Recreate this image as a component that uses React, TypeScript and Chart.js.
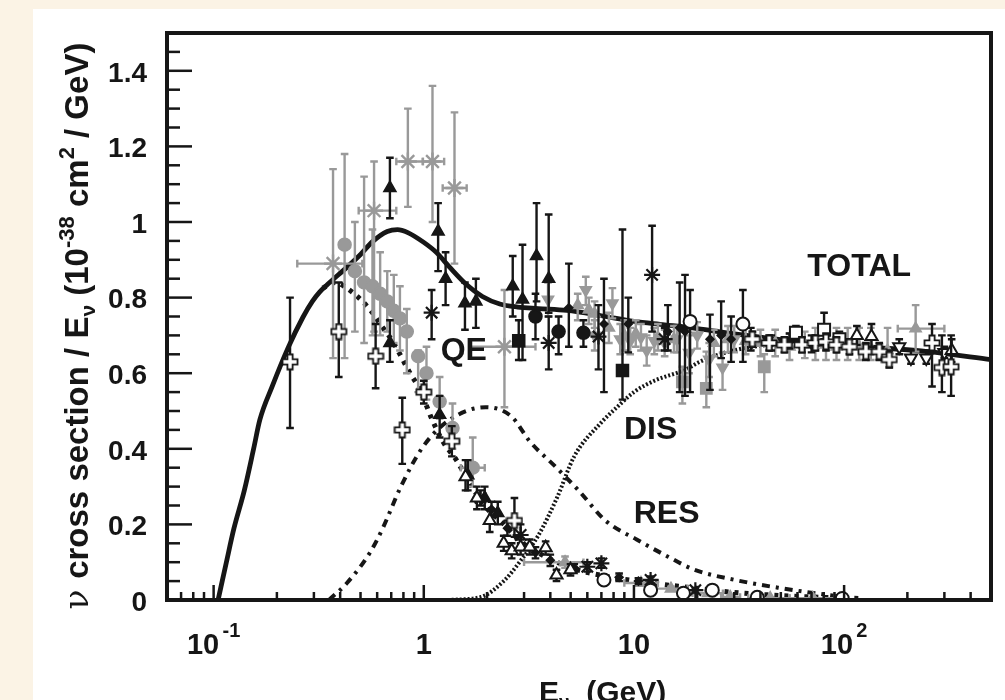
import React, { useEffect, useRef } from "react";
import { Chart, registerables } from "chart.js";
Chart.register(...registerables);

// ---------------- theory curves (E in GeV, sigma/E in 1e-38 cm^2/GeV) ----------------
const totalE = [0.105, 0.115, 0.125, 0.14, 0.155, 0.166, 0.19, 0.226, 0.266, 0.295, 0.32, 0.345, 0.37, 0.43, 0.5, 0.57, 0.67, 0.75, 0.84, 1.0, 1.15, 1.33, 1.6, 1.9, 2.3, 2.8, 3.5, 4.8, 7, 10, 14, 20, 30, 50, 80, 150, 250, 500];
const totalY = [0, 0.1, 0.19, 0.29, 0.40, 0.477, 0.565, 0.667, 0.748, 0.79, 0.815, 0.833, 0.848, 0.88, 0.914, 0.948, 0.975, 0.98, 0.972, 0.946, 0.919, 0.88, 0.834, 0.803, 0.783, 0.775, 0.771, 0.766, 0.752, 0.737, 0.728, 0.718, 0.704, 0.689, 0.678, 0.667, 0.657, 0.636];

const qeE = [0.33, 0.38, 0.43, 0.5, 0.57, 0.62, 0.7, 0.77, 0.85, 0.96, 1.09, 1.23, 1.43, 1.69, 1.97, 2.37, 2.89, 3.5, 4.9, 7, 11.3, 18.5, 30, 49, 80, 120];
const qeY = [0.825, 0.84, 0.825, 0.795, 0.76, 0.73, 0.69, 0.65, 0.605, 0.556, 0.48, 0.42, 0.37, 0.30, 0.246, 0.204, 0.155, 0.125, 0.087, 0.065, 0.047, 0.033, 0.02, 0.012, 0.007, 0.004];

const resE = [0.354, 0.431, 0.554, 0.638, 0.778, 0.99, 1.33, 1.97, 2.62, 3.19, 4.28, 5.45, 7.32, 10.3, 14.6, 19.4, 30.3, 49.1, 72.8, 100];
const resY = [0, 0.045, 0.125, 0.19, 0.30, 0.405, 0.477, 0.51, 0.485, 0.42, 0.35, 0.29, 0.21, 0.16, 0.114, 0.08, 0.053, 0.032, 0.018, 0.008];

const disE = [1.3, 1.87, 2.4, 2.9, 3.5, 4.3, 5.2, 7, 8.3, 10, 12.5, 17.7, 20.5, 25.5, 35, 50, 70];
const disY = [0, 0.008, 0.05, 0.105, 0.17, 0.27, 0.38, 0.47, 0.51, 0.55, 0.58, 0.61, 0.63, 0.65, 0.668, 0.676, 0.672];

// ---------------- measurements ----------------
// black filled up-triangles
const blkTriE = [0.69, 1.17, 1.27, 1.57, 1.77, 2.65, 2.95, 3.44, 3.93, 0.69, 1.19, 1.62, 1.95, 2.25];
const blkTriY = [1.09, 0.975, 0.85, 0.785, 0.79, 0.83, 0.795, 0.91, 0.85, 0.68, 0.49, 0.33, 0.27, 0.23];
const blkTriLo = [1.01, 0.87, 0.78, 0.715, 0.72, 0.75, 0.635, 0.79, 0.76, 0.63, 0.43, 0.29, 0.24, 0.2];
const blkTriHi = [1.17, 1.05, 0.92, 0.84, 0.85, 0.91, 0.94, 1.05, 1.02, 0.74, 0.54, 0.37, 0.30, 0.26];

// black filled circles
const blkCircE = [3.4, 4.38, 5.75];
const blkCircY = [0.75, 0.71, 0.707];
const blkCircLo = [0.69, 0.65, 0.67];
const blkCircHi = [0.81, 0.75, 0.74];

// black filled squares
const blkSqE = [2.83, 8.82];
const blkSqY = [0.686, 0.607];
const blkSqLo = [0.635, 0.53];
const blkSqHi = [0.74, 0.98];

// black asterisks
const blkStarE = [1.09, 3.93, 6.78, 12.2, 1.86, 2.89, 6.0, 7.0, 12, 19.6, 14];
const blkStarY = [0.76, 0.68, 0.697, 0.86, 0.27, 0.172, 0.088, 0.097, 0.053, 0.026, 0.69];
const blkStarLo = [0.69, 0.61, 0.61, 0.71, 0.25, 0.15, 0.075, 0.085, 0.045, 0.02, 0.66];
const blkStarHi = [0.82, 0.75, 0.78, 0.99, 0.29, 0.2, 0.1, 0.11, 0.062, 0.032, 0.72];

// small black markers with black error bars
const blkDiamE = [4.9, 7.2, 9.4, 14.5, 16.5, 17.5, 23, 26, 29, 36, 45, 55, 70, 2.1, 2.5, 3.4, 4.0, 5.2, 8.5, 10.5];
const blkDiamY = [0.773, 0.73, 0.73, 0.71, 0.72, 0.71, 0.69, 0.70, 0.69, 0.69, 0.68, 0.685, 0.675, 0.24, 0.19, 0.125, 0.105, 0.085, 0.06, 0.05];
const blkDiamLo = [0.67, 0.55, 0.655, 0.66, 0.55, 0.54, 0.556, 0.64, 0.63, 0.66, 0.66, 0.665, 0.655, 0.22, 0.17, 0.11, 0.09, 0.075, 0.05, 0.042];
const blkDiamHi = [0.89, 0.85, 0.80, 0.78, 0.84, 0.86, 0.755, 0.79, 0.75, 0.72, 0.70, 0.705, 0.70, 0.26, 0.21, 0.14, 0.12, 0.095, 0.07, 0.058];

// open crosses
const openCrossE = [0.231, 0.394, 0.59, 0.79, 1.0, 1.36, 2.7, 36.6, 44, 52, 63, 73, 82, 92, 106, 127, 147, 164, 262, 292, 323];
const openCrossY = [0.63, 0.71, 0.645, 0.45, 0.55, 0.42, 0.21, 0.69, 0.68, 0.675, 0.675, 0.68, 0.683, 0.675, 0.67, 0.657, 0.657, 0.636, 0.68, 0.615, 0.617];
const openCrossLo = [0.455, 0.59, 0.56, 0.36, 0.52, 0.38, 0.167, 0.67, 0.66, 0.655, 0.655, 0.66, 0.66, 0.655, 0.65, 0.635, 0.635, 0.615, 0.565, 0.55, 0.54];
const openCrossHi = [0.80, 0.84, 0.73, 0.535, 0.58, 0.46, 0.27, 0.71, 0.70, 0.695, 0.695, 0.70, 0.705, 0.695, 0.69, 0.68, 0.68, 0.66, 0.73, 0.70, 0.70];

// open circles
const openCircE = [18.5, 33, 7.2, 12, 17.2, 23.6, 38.6, 98];
const openCircY = [0.737, 0.73, 0.053, 0.026, 0.018, 0.026, 0.007, 0.004];
const openCircLo = [0.55, 0.63, 0.045, 0.02, 0.012, 0.02, 0.003, 0.0];
const openCircHi = [0.82, 0.82, 0.06, 0.032, 0.024, 0.032, 0.012, 0.01];

// open up-triangles
const openTriE = [1.58, 1.79, 2.06, 2.4, 2.62, 2.89, 3.19, 3.8, 4.28, 4.99, 115, 135, 325];
const openTriY = [0.326, 0.27, 0.21, 0.15, 0.13, 0.14, 0.14, 0.138, 0.066, 0.08, 0.70, 0.697, 0.66];
const openTriLo = [0.29, 0.24, 0.18, 0.13, 0.11, 0.12, 0.12, 0.12, 0.05, 0.065, 0.675, 0.67, 0.63];
const openTriHi = [0.37, 0.30, 0.24, 0.17, 0.15, 0.16, 0.16, 0.155, 0.08, 0.095, 0.725, 0.73, 0.69];

// open squares
const openSqE = [59, 80.3, 95];
const openSqY = [0.707, 0.715, 0.69];
const openSqLo = [0.69, 0.69, 0.67];
const openSqHi = [0.725, 0.76, 0.71];

// open down-triangles
const openDownE = [183, 208, 246, 300];
const openDownY = [0.67, 0.64, 0.64, 0.655];
const openDownLo = [0.65, 0.625, 0.625, 0.64];
const openDownHi = [0.69, 0.66, 0.66, 0.67];

// grey filled circles
const greyCircE = [0.42, 0.47, 0.52, 0.57, 0.62, 0.67, 0.72, 0.77, 0.83, 0.94, 1.03, 1.19, 1.37, 1.71];
const greyCircY = [0.94, 0.87, 0.84, 0.83, 0.81, 0.79, 0.765, 0.745, 0.71, 0.645, 0.60, 0.525, 0.455, 0.35];
const greyCircLo = [0.64, 0.71, 0.68, 0.70, 0.70, 0.71, 0.68, 0.66, 0.60, 0.55, 0.53, 0.48, 0.40, 0.30];
const greyCircHi = [1.18, 1.00, 1.12, 0.98, 0.92, 0.87, 0.86, 0.83, 0.77, 0.66, 0.67, 0.59, 0.52, 0.43];
const greyCircXLo = [null, null, null, null, null, null, null, null, null, null, null, null, null, 1.5];
const greyCircXHi = [null, null, null, null, null, null, null, null, null, null, null, null, null, 1.95];

// grey asterisks
const greyStarE = [0.37, 0.58, 0.84, 1.10, 1.40, 2.42];
const greyStarY = [0.89, 1.03, 1.16, 1.16, 1.09, 0.67];
const greyStarLo = [0.64, 0.71, 1.04, 1.00, 0.89, 0.51];
const greyStarHi = [1.14, 1.16, 1.30, 1.36, 1.29, 0.82];
const greyStarXLo = [0.25, 0.49, 0.74, 0.99, 1.23, 1.65];
const greyStarXHi = [0.51, 0.74, 0.99, 1.25, 1.60, 3.4];

// grey down-triangles
const greyDownE = [3.9, 5.9, 7.9, 6.5, 8.6, 9.6, 10.8, 12.5, 14, 16, 18.3, 22.8, 26.4, 11.5, 30, 20];
const greyDownY = [0.795, 0.82, 0.785, 0.70, 0.69, 0.685, 0.695, 0.685, 0.68, 0.69, 0.654, 0.636, 0.615, 0.66, 0.69, 0.70];
const greyDownLo = [0.75, 0.78, 0.745, 0.66, 0.65, 0.65, 0.66, 0.65, 0.645, 0.655, 0.60, 0.59, 0.556, 0.62, 0.655, 0.665];
const greyDownHi = [0.84, 0.855, 0.825, 0.74, 0.73, 0.72, 0.73, 0.72, 0.715, 0.725, 0.70, 0.68, 0.655, 0.70, 0.725, 0.735];

// grey up-triangles
const greyTriE = [4.7, 5.4, 6.1, 6.5, 7.6, 9.0, 10.2, 13, 15.5, 24, 28, 34, 40, 47, 55, 65, 73, 82, 92, 104, 118, 134, 161, 219, 10.8, 15, 22.5, 28.7, 44.5, 71];
const greyTriY = [0.10, 0.78, 0.768, 0.757, 0.72, 0.70, 0.705, 0.695, 0.69, 0.68, 0.69, 0.685, 0.68, 0.68, 0.67, 0.675, 0.68, 0.675, 0.67, 0.675, 0.67, 0.665, 0.66, 0.718, 0.045, 0.03, 0.018, 0.008, 0.005, 0.005];
const greyTriLo = [0.085, 0.74, 0.73, 0.72, 0.68, 0.66, 0.67, 0.66, 0.655, 0.645, 0.655, 0.65, 0.645, 0.645, 0.635, 0.64, 0.635, 0.635, 0.635, 0.635, 0.635, 0.635, 0.635, 0.657, 0.04, 0.025, 0.014, 0.005, 0.003, 0.003];
const greyTriHi = [0.115, 0.81, 0.80, 0.79, 0.76, 0.74, 0.74, 0.73, 0.725, 0.715, 0.725, 0.72, 0.715, 0.715, 0.705, 0.71, 0.72, 0.72, 0.72, 0.72, 0.72, 0.72, 0.72, 0.78, 0.05, 0.035, 0.022, 0.011, 0.007, 0.007];
const greyTriXLo = [3.0, null, null, null, null, null, null, null, null, null, null, null, null, null, null, null, null, null, null, null, null, null, null, 180, 9, 12.5, 19, 26, 35, 55];
const greyTriXHi = [5.75, null, null, null, null, null, null, null, null, null, null, null, null, null, null, null, null, null, null, null, null, null, null, 300, 13, 18, 26.5, 32, 55, 90];

// grey squares
const greySqE = [17, 22.1, 41.7];
const greySqY = [0.577, 0.56, 0.617];
const greySqLo = [0.52, 0.51, 0.55];
const greySqHi = [0.617, 0.657, 0.65];

// ---------------- axes ----------------
const xMin = 0.06;
const xMax = 500;
const yMin = 0;
const yMax = 1.5;
const xMajorTicks = [0.1, 1, 10, 100];
const xTickBase = ["10", "1", "10", "10"];
const xTickSup = ["-1", "", "", "2"];
const yMajorTicks = [0, 0.2, 0.4, 0.6, 0.8, 1.0, 1.2, 1.4];
const yTickLabels = ["0", "0.2", "0.4", "0.6", "0.8", "1", "1.2", "1.4"];
const yMinorStep = 0.05;

const curveLabels = ["TOTAL", "QE", "DIS", "RES"];
const curveLabelE = [118, 1.55, 12, 14.3];
const curveLabelY = [0.88, 0.657, 0.45, 0.228];

const INK = "#161616";
const GREY = "#999999";
const SANS = "'Liberation Sans', Arial, Helvetica, sans-serif";

function pts(E: number[], Y: number[]) {
  return E.map((e, i) => ({ x: e, y: Y[i] }));
}

function makeOpenCross(): HTMLCanvasElement {
  const c = document.createElement("canvas");
  c.width = 18;
  c.height = 18;
  const g = c.getContext("2d")!;
  const m = 9, L = 7.5, w = 2.6;
  g.beginPath();
  g.moveTo(m - w, m - L);
  g.lineTo(m + w, m - L);
  g.lineTo(m + w, m - w);
  g.lineTo(m + L, m - w);
  g.lineTo(m + L, m + w);
  g.lineTo(m + w, m + w);
  g.lineTo(m + w, m + L);
  g.lineTo(m - w, m + L);
  g.lineTo(m - w, m + w);
  g.lineTo(m - L, m + w);
  g.lineTo(m - L, m - w);
  g.lineTo(m - w, m - w);
  g.closePath();
  g.fillStyle = "#ffffff";
  g.fill();
  g.lineWidth = 1.8;
  g.strokeStyle = INK;
  g.stroke();
  return c;
}

function markers(label: string, E: number[], Y: number[], lo: number[], hi: number[], opt: any) {
  return {
    type: "scatter",
    label,
    data: pts(E, Y),
    errLo: lo,
    errHi: hi,
    xLo: opt.xLo,
    xHi: opt.xHi,
    errColor: opt.errColor,
    showLine: false,
    pointStyle: opt.style,
    pointRadius: opt.r,
    pointRotation: opt.rot || 0,
    backgroundColor: opt.fill,
    borderColor: opt.stroke,
    borderWidth: opt.bw ?? 1.5,
    order: opt.order ?? 1,
  };
}

function curve(label: string, E: number[], Y: number[], dash: number[], width: number) {
  return {
    type: "line",
    label,
    data: pts(E, Y),
    borderColor: INK,
    borderWidth: width,
    borderDash: dash,
    borderCapStyle: "butt",
    pointRadius: 0,
    fill: false,
    cubicInterpolationMode: "monotone",
    order: 20,
  };
}

const errorBarPlugin = {
  id: "errbars",
  beforeDatasetDraw(chart: any, args: any) {
    const ds = chart.data.datasets[args.index];
    if (!ds.errLo) return;
    const { ctx, chartArea: a } = chart;
    const xs = chart.scales.x, ys = chart.scales.y;
    ctx.save();
    ctx.beginPath();
    ctx.rect(a.left, a.top, a.right - a.left, a.bottom - a.top);
    ctx.clip();
    ctx.strokeStyle = ds.errColor;
    ctx.lineWidth = 2.4;
    const cap = 3.8;
    ds.data.forEach((p: any, i: number) => {
      const px = xs.getPixelForValue(p.x);
      const py = ys.getPixelForValue(p.y);
      const lo = ds.errLo[i], hi = ds.errHi[i];
      if (lo != null && hi != null && hi > lo) {
        const y1 = ys.getPixelForValue(lo), y2 = ys.getPixelForValue(hi);
        ctx.beginPath();
        ctx.moveTo(px, y1);
        ctx.lineTo(px, y2);
        ctx.moveTo(px - cap, y1);
        ctx.lineTo(px + cap, y1);
        ctx.moveTo(px - cap, y2);
        ctx.lineTo(px + cap, y2);
        ctx.stroke();
      }
      if (ds.xLo && ds.xLo[i] != null) {
        const x1 = xs.getPixelForValue(ds.xLo[i]), x2 = xs.getPixelForValue(ds.xHi[i]);
        ctx.beginPath();
        ctx.moveTo(x1, py);
        ctx.lineTo(x2, py);
        ctx.moveTo(x1, py - cap);
        ctx.lineTo(x1, py + cap);
        ctx.moveTo(x2, py - cap);
        ctx.lineTo(x2, py + cap);
        ctx.stroke();
      }
    });
    ctx.restore();
  },
};

type Seg = { t: string; font: string; dy: number };
function segWidth(ctx: CanvasRenderingContext2D, segs: Seg[]) {
  let w = 0;
  for (const s of segs) {
    ctx.font = s.font;
    w += ctx.measureText(s.t).width;
  }
  return w;
}
function drawSegs(ctx: CanvasRenderingContext2D, segs: Seg[], x: number, y: number) {
  let cx = x;
  for (const s of segs) {
    ctx.font = s.font;
    ctx.fillText(s.t, cx, y + s.dy);
    cx += ctx.measureText(s.t).width;
  }
}

const axesPlugin = {
  id: "axesDraw",
  afterDraw(chart: any) {
    const { ctx, chartArea: a } = chart;
    const xs = chart.scales.x, ys = chart.scales.y;
    ctx.save();
    ctx.strokeStyle = INK;
    ctx.fillStyle = INK;
    ctx.lineCap = "butt";
    ctx.lineWidth = 2.5;
    // y ticks (inward)
    const nY = Math.round((yMax - yMin) / yMinorStep);
    for (let i = 0; i < nY; i++) {
      const v = yMin + i * yMinorStep;
      const py = ys.getPixelForValue(v);
      const major = yMajorTicks.some((m) => Math.abs(m - v) < 1e-6);
      ctx.beginPath();
      ctx.moveTo(a.left, py);
      ctx.lineTo(a.left + (major ? 25 : 13), py);
      ctx.stroke();
    }
    // x ticks (inward)
    for (let d = -2; d <= 2; d++) {
      for (let k = 1; k <= 9; k++) {
        const v = k * Math.pow(10, d);
        if (v < xMin * 0.999 || v > xMax * 1.001) continue;
        const px = xs.getPixelForValue(v);
        const major = k === 1;
        ctx.beginPath();
        ctx.moveTo(px, a.bottom);
        ctx.lineTo(px, a.bottom - (major ? 15 : 8));
        ctx.stroke();
      }
    }
    // frame
    ctx.lineWidth = 4;
    ctx.strokeRect(a.left, a.top, a.right - a.left, a.bottom - a.top);

    // y tick labels
    ctx.font = `bold 28px ${SANS}`;
    ctx.textAlign = "right";
    ctx.textBaseline = "middle";
    yMajorTicks.forEach((v, i) => {
      ctx.fillText(yTickLabels[i], 147, ys.getPixelForValue(v) + 3);
    });
    // x tick labels with superscripts
    ctx.textAlign = "left";
    ctx.textBaseline = "alphabetic";
    xMajorTicks.forEach((v, i) => {
      const segs: Seg[] = [{ t: xTickBase[i], font: `bold 29px ${SANS}`, dy: 0 }];
      if (xTickSup[i]) {
        segs.push({ t: " ", font: `bold 12px ${SANS}`, dy: 0 });
        segs.push({ t: xTickSup[i], font: `bold 20px ${SANS}`, dy: -17 });
      }
      const w = segWidth(ctx, segs);
      drawSegs(ctx, segs, xs.getPixelForValue(v) - w / 2, 654);
    });

    // y title (rotated)
    const ySegs: Seg[] = [
      { t: "\u03bd ", font: `33px 'DejaVu Serif', serif`, dy: 0 },
      { t: "cross section / E", font: `bold 33px ${SANS}`, dy: 0 },
      { t: "\u03bd", font: `bold 21px ${SANS}`, dy: 7 },
      { t: " (10", font: `bold 33px ${SANS}`, dy: 0 },
      { t: "-38", font: `bold 22px ${SANS}`, dy: -14 },
      { t: " cm", font: `bold 33px ${SANS}`, dy: 0 },
      { t: "2", font: `bold 22px ${SANS}`, dy: -14 },
      { t: " / GeV)", font: `bold 33px ${SANS}`, dy: 0 },
    ];
    ctx.save();
    ctx.translate(88, 326);
    ctx.rotate(-Math.PI / 2);
    const yw = segWidth(ctx, ySegs);
    drawSegs(ctx, ySegs, -yw / 2, 0);
    ctx.restore();

    // x title
    const xSegs: Seg[] = [
      { t: "E", font: `bold 30px ${SANS}`, dy: 0 },
      { t: "\u03bd", font: `bold 19px ${SANS}`, dy: 6 },
      { t: "  (GeV)", font: `bold 30px ${SANS}`, dy: 0 },
    ];
    drawSegs(ctx, xSegs, 539, 702);

    // curve labels
    ctx.font = `bold 32px ${SANS}`;
    ctx.textAlign = "center";
    ctx.textBaseline = "middle";
    curveLabels.forEach((t, i) => {
      ctx.fillText(t, xs.getPixelForValue(curveLabelE[i]), ys.getPixelForValue(curveLabelY[i]));
    });
    ctx.restore();
  },
};

export default function App() {
  const ref = useRef<HTMLCanvasElement>(null);
  useEffect(() => {
    const openCross = makeOpenCross();
    const datasets: any[] = [
      markers("open crosses", openCrossE, openCrossY, openCrossLo, openCrossHi, { style: openCross, r: 9, fill: "#fff", stroke: INK, errColor: INK }),
      markers("open circles", openCircE, openCircY, openCircLo, openCircHi, { style: "circle", r: 6.5, fill: "#fff", stroke: INK, bw: 2, errColor: INK }),
      markers("open triangles", openTriE, openTriY, openTriLo, openTriHi, { style: "triangle", r: 7, fill: "#fff", stroke: INK, bw: 2, errColor: INK }),
      markers("open squares", openSqE, openSqY, openSqLo, openSqHi, { style: "rect", r: 8.5, fill: "#fff", stroke: INK, bw: 2, errColor: INK }),
      markers("open down", openDownE, openDownY, openDownLo, openDownHi, { style: "triangle", rot: 180, r: 7, fill: "#fff", stroke: INK, bw: 2, errColor: INK }),
      markers("black triangles", blkTriE, blkTriY, blkTriLo, blkTriHi, { style: "triangle", r: 7, fill: INK, stroke: INK, errColor: INK }),
      markers("black circles", blkCircE, blkCircY, blkCircLo, blkCircHi, { style: "circle", r: 6.5, fill: INK, stroke: INK, errColor: INK }),
      markers("black squares", blkSqE, blkSqY, blkSqLo, blkSqHi, { style: "rect", r: 8.5, fill: INK, stroke: INK, errColor: INK }),
      markers("black asterisks", blkStarE, blkStarY, blkStarLo, blkStarHi, { style: "star", r: 8, fill: INK, stroke: INK, bw: 2.2, errColor: INK }),
      markers("black small", blkDiamE, blkDiamY, blkDiamLo, blkDiamHi, { style: "rectRot", r: 4, fill: INK, stroke: INK, errColor: INK }),
      markers("grey circles", greyCircE, greyCircY, greyCircLo, greyCircHi, { style: "circle", r: 6.5, fill: GREY, stroke: GREY, errColor: GREY, xLo: greyCircXLo, xHi: greyCircXHi, order: 2 }),
      markers("grey asterisks", greyStarE, greyStarY, greyStarLo, greyStarHi, { style: "star", r: 9, fill: GREY, stroke: GREY, bw: 2.4, errColor: GREY, xLo: greyStarXLo, xHi: greyStarXHi, order: 2 }),
      markers("grey down", greyDownE, greyDownY, greyDownLo, greyDownHi, { style: "triangle", rot: 180, r: 6.5, fill: GREY, stroke: GREY, errColor: GREY, order: 2 }),
      markers("grey triangles", greyTriE, greyTriY, greyTriLo, greyTriHi, { style: "triangle", r: 6.5, fill: GREY, stroke: GREY, errColor: GREY, xLo: greyTriXLo, xHi: greyTriXHi, order: 2 }),
      markers("grey squares", greySqE, greySqY, greySqLo, greySqHi, { style: "rect", r: 8, fill: GREY, stroke: GREY, errColor: GREY, order: 2 }),
      curve("TOTAL", totalE, totalY, [], 4.8),
      curve("QE", qeE, qeY, [4, 6], 5),
      curve("RES", resE, resY, [8, 6, 3, 6], 4),
      curve("DIS", disE, disY, [2, 2], 4),
    ];
    const chart = new Chart(ref.current!, {
      type: "scatter",
      data: { datasets },
      options: {
        animation: false,
        responsive: false,
        devicePixelRatio: 1,
        layout: { padding: { left: 0, top: 33, right: 14, bottom: 0 } },
        plugins: { legend: { display: false }, tooltip: { enabled: false } },
        scales: {
          x: {
            type: "logarithmic",
            min: xMin,
            max: xMax,
            ticks: { display: false },
            grid: { display: false },
            border: { display: false },
            afterFit: (s: any) => { s.height = 100; },
          },
          y: {
            type: "linear",
            min: yMin,
            max: yMax,
            ticks: { display: false },
            grid: { display: false },
            border: { display: false },
            afterFit: (s: any) => { s.width = 167; },
          },
        },
      } as any,
      plugins: [errorBarPlugin, axesPlugin],
    } as any);
    return () => chart.destroy();
  }, []);
  return (
    <div style={{ position: "fixed", left: 0, top: 0, width: 1005, height: 700, background: "#FBF3E5", overflow: "hidden" }}>
      <div style={{ position: "absolute", left: 33, top: 9, right: 0, bottom: 0, background: "#ffffff" }} />
      <canvas ref={ref} width={1005} height={700} style={{ position: "absolute", left: 0, top: 0, width: 1005, height: 700 }} />
    </div>
  );
}
